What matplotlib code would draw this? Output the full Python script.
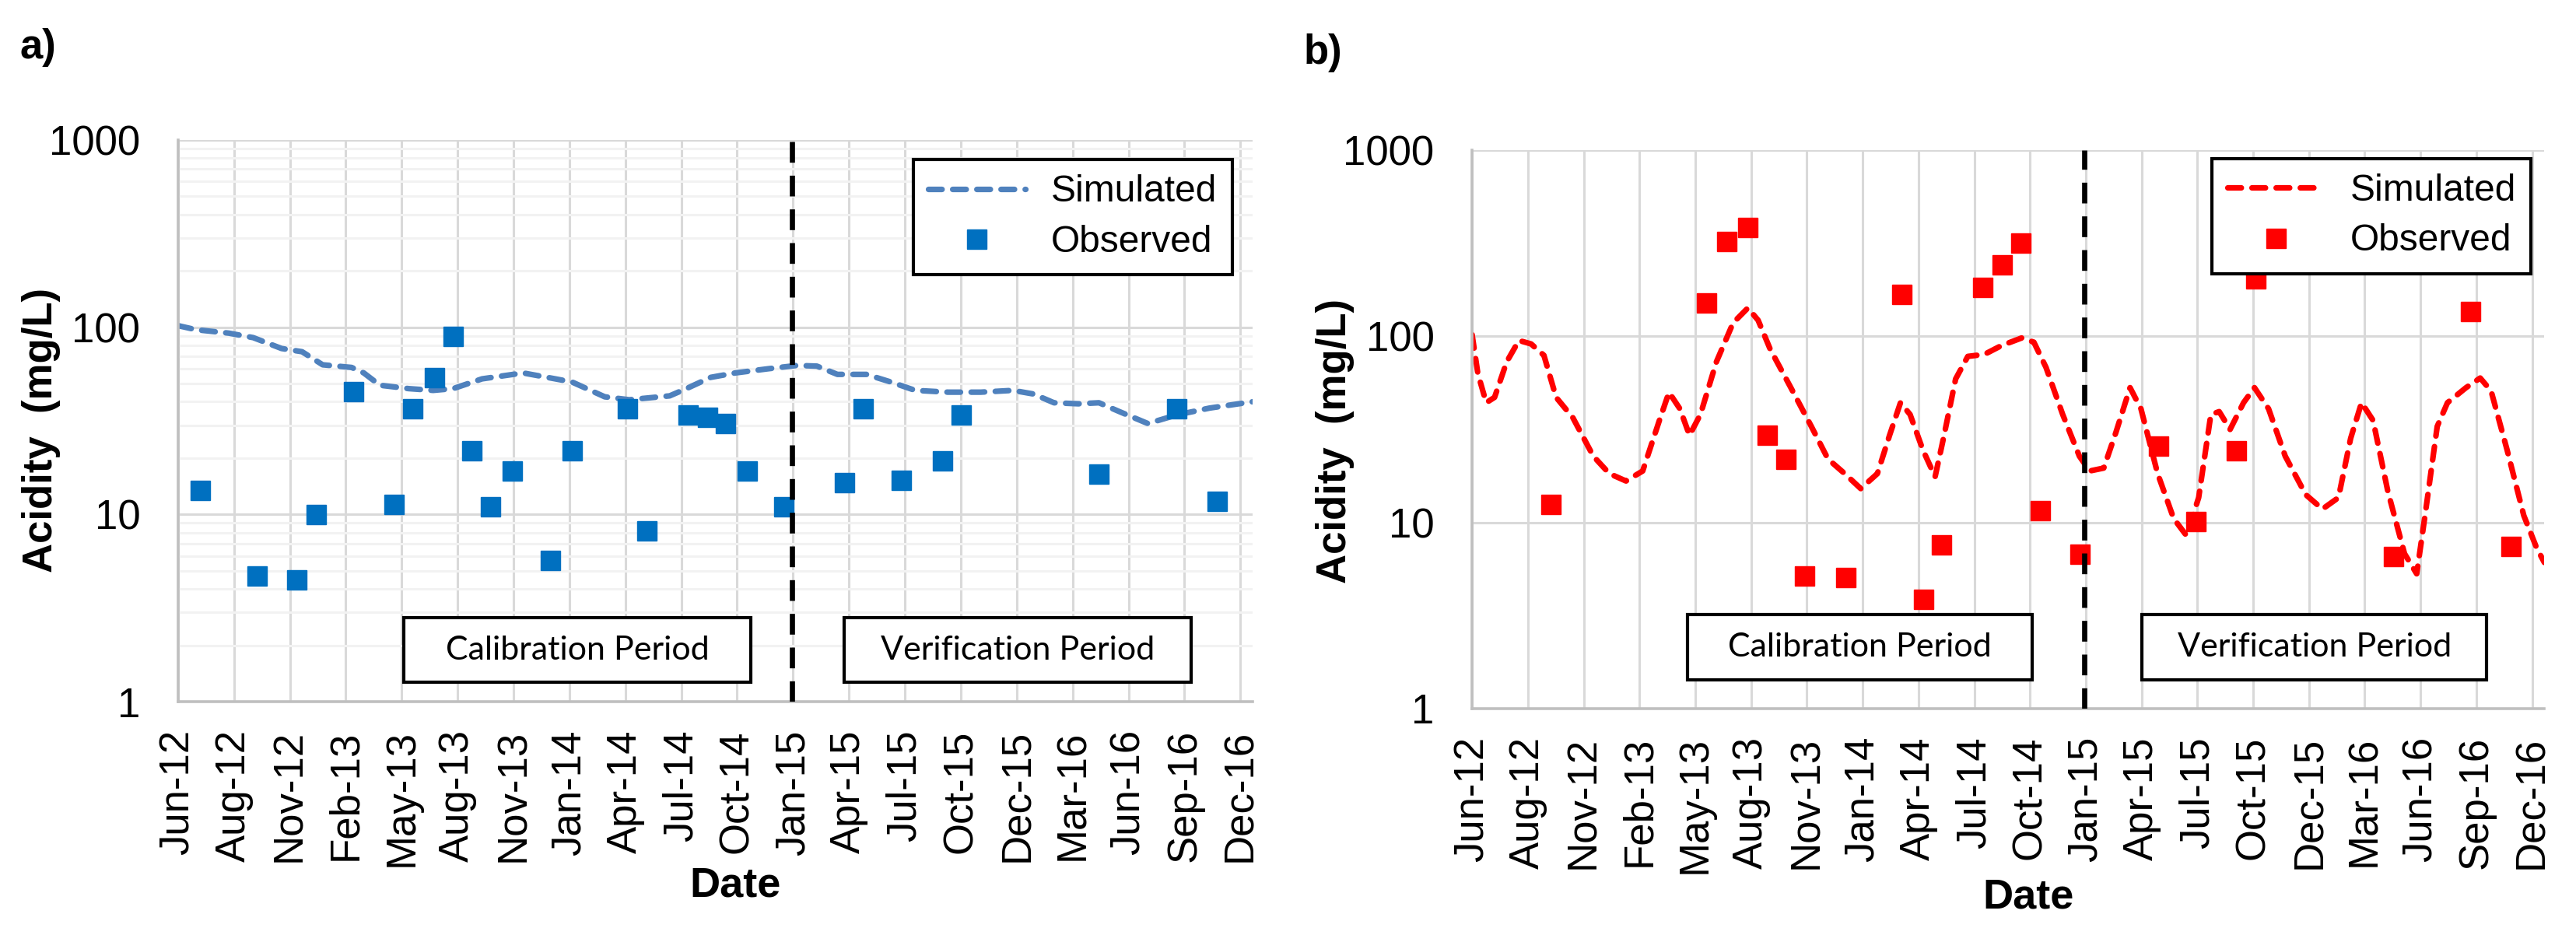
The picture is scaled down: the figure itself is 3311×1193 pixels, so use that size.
import matplotlib.pyplot as plt
import matplotlib.ticker as mticker
from matplotlib.patches import Rectangle
import pandas as pd

plt.rcParams['font.family'] = ['Liberation Sans', 'DejaVu Sans']

# Eje X (fechas de Excel, cada 87 dias)
X_START = '2012-06-01'
X_END = '2016-12-29'
TICK_DATES = ['2012-06-01', '2012-08-27', '2012-11-22', '2013-02-17', '2013-05-15',
              '2013-08-10', '2013-11-05', '2014-01-31', '2014-04-28', '2014-07-24',
              '2014-10-19', '2015-01-14', '2015-04-11', '2015-07-07', '2015-10-02',
              '2015-12-28', '2016-03-24', '2016-06-19', '2016-09-14', '2016-12-10']
TICK_LABELS = ['Jun-12', 'Aug-12', 'Nov-12', 'Feb-13', 'May-13', 'Aug-13', 'Nov-13',
               'Jan-14', 'Apr-14', 'Jul-14', 'Oct-14', 'Jan-15', 'Apr-15', 'Jul-15',
               'Oct-15', 'Dec-15', 'Mar-16', 'Jun-16', 'Sep-16', 'Dec-16']
Y_TICKS = [1, 10, 100, 1000]
SPLIT_DATE = '2015-01-12'

# Panel a)
SIM_A_DATES = ['2012-06-01', '2012-06-29', '2012-08-19', '2012-09-26', '2012-11-09', '2012-12-11',
               '2013-01-12', '2013-02-26', '2013-03-17', '2013-04-11', '2013-05-26', '2013-07-03',
               '2013-08-03', '2013-09-17', '2013-11-20', '2014-01-09', '2014-02-04', '2014-03-27',
               '2014-05-04', '2014-07-06', '2014-08-01', '2014-09-08', '2014-10-16', '2014-12-06',
               '2015-01-20', '2015-02-20', '2015-03-24', '2015-05-08', '2015-06-15', '2015-07-23',
               '2015-09-12', '2015-11-02', '2015-12-22', '2016-01-23', '2016-02-24', '2016-04-02',
               '2016-05-04', '2016-06-05', '2016-07-19', '2016-09-02', '2016-10-23', '2016-12-29']
SIM_A = [102, 97, 93, 88, 77, 74, 63, 61, 57, 49, 47, 46, 47, 53, 57, 53, 51, 42.5, 41, 43,
         47, 54, 57, 60, 62.5, 62, 56, 56, 51, 46, 45, 45, 46, 44, 39.5, 39, 39.5, 35.4, 30.6,
         34, 37, 40]
OBS_A_DATES = ['2012-07-05', '2012-10-01', '2012-12-02', '2013-01-01', '2013-02-28', '2013-05-03',
               '2013-06-01', '2013-07-05', '2013-08-02', '2013-08-31', '2013-09-30', '2013-11-03',
               '2014-01-01', '2014-02-04', '2014-05-01', '2014-05-31', '2014-08-03', '2014-09-02',
               '2014-09-30', '2014-11-03', '2014-12-30', '2015-04-03', '2015-05-03', '2015-07-01',
               '2015-09-03', '2015-10-02', '2016-05-03', '2016-09-01', '2016-11-03']
OBS_A = [13.5, 4.7, 4.5, 10.0, 45.7, 11.4, 36.7, 54, 90, 22, 11.0, 17.1, 5.7, 22, 36.7, 8.2,
         34.1, 33.1, 30.6, 17.1, 11.0, 14.9, 36.7, 15.3, 19.5, 34.1, 16.5, 36.7, 11.8]

# Panel b)
SIM_B_DATES = ['2012-06-01', '2012-06-10', '2012-06-23', '2012-07-06', '2012-07-25', '2012-08-13',
               '2012-09-01', '2012-09-21', '2012-10-10', '2012-11-05', '2012-12-07', '2013-01-01',
               '2013-01-27', '2013-02-22', '2013-03-20', '2013-04-04', '2013-04-21', '2013-05-06',
               '2013-05-23', '2013-06-17', '2013-07-13', '2013-08-05', '2013-08-21', '2013-09-09',
               '2013-10-11', '2013-11-12', '2013-12-08', '2014-01-03', '2014-01-28', '2014-02-23',
               '2014-03-14', '2014-03-31', '2014-04-15', '2014-05-05', '2014-05-24', '2014-06-06',
               '2014-06-25', '2014-07-14', '2014-08-09', '2014-09-04', '2014-10-06', '2014-10-25',
               '2014-11-13', '2014-12-09', '2015-01-04', '2015-01-20', '2015-02-11', '2015-03-02',
               '2015-03-24', '2015-04-10', '2015-05-06', '2015-05-31', '2015-06-20', '2015-07-09',
               '2015-07-28', '2015-08-10', '2015-08-27', '2015-09-17', '2015-10-04', '2015-10-26',
               '2015-11-21', '2015-12-23', '2016-01-18', '2016-02-12', '2016-03-02', '2016-03-19',
               '2016-04-06', '2016-04-29', '2016-05-25', '2016-06-13', '2016-06-26', '2016-07-15',
               '2016-07-31', '2016-08-29', '2016-09-20', '2016-10-07', '2016-11-01', '2016-11-27',
               '2016-12-17', '2016-12-29']
SIM_B = [102, 63, 44, 47, 73, 95, 91, 79, 47, 36.6, 22.7, 18.3, 16.7, 18.9, 35.3, 50, 40.8,
         29.4, 38, 73, 118, 142, 122, 85, 53, 32.8, 21.9, 18.3, 15.2, 18.3, 29.4, 44, 38, 24.5,
         17.6, 28.3, 59, 78, 80, 89, 98, 93, 68, 38, 22.7, 18.9, 19.6, 30.5, 53, 40.8, 18.3,
         10.5, 8.5, 13.6, 38, 39.4, 31.6, 44, 53, 40.8, 22.7, 14.1, 11.8, 13.6, 28.3, 44, 35.3,
         14.7, 6.8, 5.3, 10.9, 32.8, 44, 53, 59.7, 50.9, 24.5, 10.9, 7.3, 6.1]
OBS_B_DATES = ['2012-10-01', '2013-06-01', '2013-07-03', '2013-08-04', '2013-09-04', '2013-10-03',
               '2013-11-01', '2014-01-04', '2014-04-01', '2014-05-05', '2014-06-03', '2014-08-06',
               '2014-09-05', '2014-10-04', '2014-11-03', '2015-01-04', '2015-05-07', '2015-07-04',
               '2015-09-05', '2015-10-06', '2016-05-07', '2016-09-05', '2016-11-07']
OBS_B = [12.5, 152, 326, 386, 29.6, 21.9, 5.2, 5.1, 168, 3.9, 7.6, 184, 242, 317, 11.6, 6.8,
         25.9, 10.2, 24.3, 204, 6.6, 137, 7.5]


def draw_panel(ax, sim_dates, sim_vals, obs_dates, obs_vals, sim_color, obs_color,
               minor_grid, legend_anchor, cal_x, ver_x, box_y, box_w, box_h):
    ax.set_yscale('log')
    ax.set_ylim(1, 1000)
    ax.set_xlim(pd.Timestamp(X_START), pd.Timestamp(X_END))
    ax.set_yticks(Y_TICKS)
    ax.set_yticklabels([str(v) for v in Y_TICKS])
    ax.yaxis.set_minor_locator(mticker.LogLocator(base=10, subs=range(2, 10)))
    ax.yaxis.set_minor_formatter(mticker.NullFormatter())
    ax.set_xticks(pd.to_datetime(TICK_DATES))
    ax.set_xticklabels(TICK_LABELS, rotation=90)
    ax.tick_params(which='both', length=0, labelsize=38)
    ax.tick_params(axis='y', pad=35)
    ax.tick_params(axis='x', pad=26)

    # Cuadricula estilo Excel
    ax.grid(True, which='major', color='#D9D9D9', lw=2.2)
    if minor_grid:
        ax.grid(True, which='minor', axis='y', color='#F2F2F2', lw=2.2)
    ax.set_axisbelow(True)
    for side in ['top', 'right']:
        ax.spines[side].set_visible(False)
    for side in ['left', 'bottom']:
        ax.spines[side].set_color('#BFBFBF')
        ax.spines[side].set_linewidth(2.6)

    ax.plot(pd.to_datetime(sim_dates), sim_vals, color=sim_color, lw=5.2,
            dashes=(2.4, 1.9), dash_capstyle='round', solid_joinstyle='round',
            label='Simulated', zorder=2)
    ax.plot(pd.to_datetime(obs_dates), obs_vals, linestyle='none', marker='s', ms=18,
            color=obs_color, mec=obs_color, label='Observed', zorder=3)
    ax.axvline(pd.Timestamp(SPLIT_DATE), color='black', lw=4.8, dashes=(4, 2.5), zorder=4)

    leg = ax.legend(loc='upper right', bbox_to_anchor=legend_anchor, fontsize=34.5,
                    frameon=True, fancybox=False, edgecolor='black', framealpha=1,
                    borderpad=0.4, labelspacing=0.4, handlelength=2.6, handletextpad=0.7,
                    borderaxespad=0)
    leg.get_frame().set_linewidth(3)
    leg.set_zorder(6)

    # Cuadros de periodo
    for x0, txt in [(cal_x, 'Calibration Period'), (ver_x, 'Verification Period')]:
        ax.add_patch(Rectangle((x0, box_y), box_w, box_h, transform=ax.transAxes,
                               fc='white', ec='black', lw=3, zorder=5))
        ax.text(x0 + box_w / 2, box_y + box_h / 2, txt, transform=ax.transAxes,
                ha='center', va='center', fontsize=31, family=['Lato', 'DejaVu Sans'],
                zorder=6)


fig = plt.figure(figsize=(33.12, 11.93), dpi=100)
ax_a = fig.add_axes([0.0691, 0.2439, 0.4170, 0.6052])
ax_b = fig.add_axes([0.5713, 0.2364, 0.4161, 0.6018])

draw_panel(ax_a, SIM_A_DATES, SIM_A, OBS_A_DATES, OBS_A, '#4F81BD', '#0070C0',
           True, (0.981, 0.965), 0.210, 0.620, 0.0346, 0.323, 0.115)
draw_panel(ax_b, SIM_B_DATES, SIM_B, OBS_B_DATES, OBS_B, '#FF0000', '#FF0000',
           False, (0.9877, 0.9847), 0.201, 0.6248, 0.0515, 0.3215, 0.117)

# Etiquetas
fig.text(53 / 3312, 0.5365, 'Acidity  (mg/L)', rotation=90, ha='center', va='center',
         fontsize=38, fontweight='bold')
fig.text(1716 / 3312, 0.525, 'Acidity  (mg/L)', rotation=90, ha='center', va='center',
         fontsize=38, fontweight='bold')
fig.text(945 / 3312, 0.0453, 'Date', ha='center', va='center', fontsize=39, fontweight='bold')
fig.text(2607 / 3312, 0.0335, 'Date', ha='center', va='center', fontsize=39, fontweight='bold')
fig.text(26 / 3312, 0.949, 'a)', ha='left', va='center', fontsize=38, fontweight='bold')
fig.text(1676 / 3312, 0.943, 'b)', ha='left', va='center', fontsize=38, fontweight='bold')

fig.savefig('out.png', dpi=100)
plt.close()
